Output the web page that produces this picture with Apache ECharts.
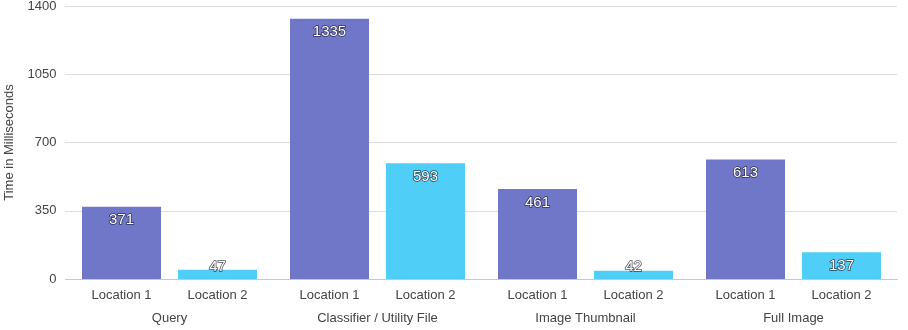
<!DOCTYPE html>
<html><head><meta charset="utf-8">
<script src="https://cdn.jsdelivr.net/npm/echarts@6/dist/echarts.min.js"></script>
<style>html,body{margin:0;padding:0;background:#fff}#c{width:908px;height:330px}</style>
</head><body><div id="c"></div>
<script>
const groups = ['Query', 'Classifier / Utility File', 'Image Thumbnail', 'Full Image'];
const seriesNames = ['Location 1', 'Location 2'];
const location1 = [371, 1335, 461, 613];
const location2 = [47, 593, 42, 137];
const yTicks = [0, 350, 700, 1050, 1400];
const colors = ['#7077C9', '#4FCFF7'];

function toData(arr) {
  return arr.map(v => v < 100
    ? { value: v, label: { position: 'insideBottom', distance: 5 } }
    : { value: v });
}
const chart = echarts.init(document.getElementById('c'));
const font = '"Liberation Sans", Helvetica, Arial, sans-serif';
chart.setOption({
  animation: false,
  grid: { left: 65.5, right: 10.5, top: 6, bottom: 51, containLabel: false, outerBoundsMode: 'none' },
  xAxis: {
    type: 'category',
    data: groups,
    axisLine: { lineStyle: { color: '#c8c8c8' } },
    axisTick: { show: false },
    axisLabel: {
      interval: 0,
      margin: 5,
      fontFamily: font,
      color: '#444',
      formatter: g => '{a|' + seriesNames[0] + '}{b|' + seriesNames[1] + '}\n{c|' + g + '}',
      rich: {
        a: { width: 96, align: 'center', fontSize: 13, fontFamily: font, color: '#444', height: 23 },
        b: { width: 96, align: 'center', fontSize: 13, fontFamily: font, color: '#444', height: 23 },
        c: { fontSize: 13, fontFamily: font, color: '#444', height: 23, align: 'center' }
      }
    }
  },
  yAxis: {
    type: 'value',
    min: yTicks[0], max: yTicks[yTicks.length - 1], interval: 350,
    name: 'Time in Milliseconds',
    nameLocation: 'middle',
    nameGap: 50,
    nameRotate: 90,
    nameTextStyle: { fontFamily: font, fontSize: 13, color: '#444' },
    axisLabel: { fontFamily: font, fontSize: 13, color: '#444', margin: 9, formatter: v => String(v) },
    axisLine: { show: false },
    axisTick: { show: false },
    splitLine: { lineStyle: { color: '#bbbbbb', type: 'dotted', width: 1 } }
  },
  series: [location1, location2].map((arr, i) => ({
    name: seriesNames[i],
    type: 'bar',
    data: toData(arr),
    barWidth: 79,
    barGap: '21.5%',
    itemStyle: { color: colors[i] },
    label: {
      show: true,
      position: 'insideTop',
      distance: 6,
      color: '#fff',
      fontFamily: font,
      fontSize: 15,
      textBorderColor: 'rgba(30,30,50,0.8)',
      textBorderWidth: 1.5
    }
  }))
});
</script></body></html>
